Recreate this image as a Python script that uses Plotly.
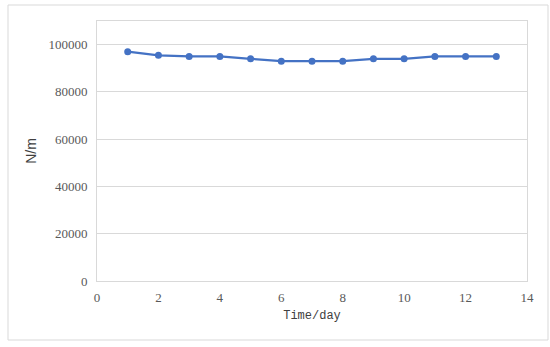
import plotly.graph_objects as go

days = [1, 2, 3, 4, 5, 6, 7, 8, 9, 10, 11, 12, 13]
force = [97000, 95500, 95000, 95000, 94000, 93000, 93000, 93000, 94000, 94000, 95000, 95000, 95000]

L, R, T, B = 97, 23, 21, 66
W, H = 550, 347
pw, ph = W - L - R, H - T - B

fig = go.Figure()
fig.add_trace(go.Scatter(
    x=days, y=force, mode="lines+markers",
    line=dict(color="#4472C4", width=2.25),
    marker=dict(color="#4472C4", size=7),
    showlegend=False,
))

tickfont = dict(family="Liberation Serif", size=13, color="#595959")
fig.update_layout(
    width=W, height=H,
    margin=dict(l=L, r=R, t=T, b=B),
    paper_bgcolor="white", plot_bgcolor="white",
    xaxis=dict(range=[0, 14], dtick=2, tick0=0, showgrid=False, zeroline=False,
               showline=True, linecolor="#d9d9d9", linewidth=1, mirror=True,
               ticks="", tickfont=tickfont, ticklabelstandoff=4,
               title=dict(text="Time/day", font=dict(family="Liberation Mono", size=12, color="#404040"), standoff=7)),
    yaxis=dict(range=[0, 110000], dtick=20000, tick0=0, showgrid=True, gridcolor="#d9d9d9",
               zeroline=False, showline=True, linecolor="#d9d9d9", linewidth=1, mirror=True,
               ticks="", tickfont=tickfont, tickformat="d", ticklabelstandoff=6,
               title=dict(text="N/m", font=dict(family="Liberation Sans", size=14, color="#404040"), standoff=8)),
    shapes=[dict(type="rect", xref="paper", yref="paper",
                 x0=(8 - L) / pw, x1=(548 - L) / pw,
                 y0=(H - B - 340) / ph, y1=(H - B - 5) / ph,
                 line=dict(color="#d9d9d9", width=1), fillcolor="rgba(0,0,0,0)", layer="below")],
)

fig.write_html("out.html")
